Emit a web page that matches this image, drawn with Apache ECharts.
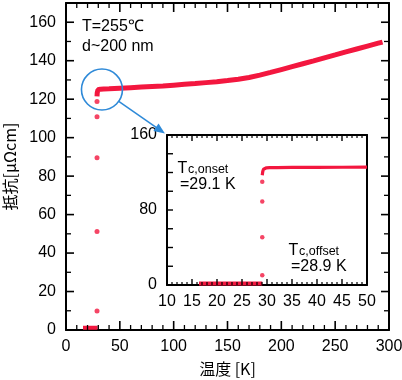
<!DOCTYPE html>
<html><head><meta charset="utf-8">
<script src="https://cdn.jsdelivr.net/npm/echarts@6/dist/echarts.min.js"></script>
<style>html,body{margin:0;padding:0;background:#fff}#c{width:402px;height:380px;background:#fff}</style>
</head><body><div id="c"></div>
<script>
// ---------- data (main panel) ----------
const mainZeroT = [15.8, 18, 20, 22, 24, 26, 28, 29.4];
const mainZeroR = [1.2, 1.2, 1.2, 1.2, 1.2, 1.2, 1.2, 1.2];
const mainTransT = [28.8, 28.8, 28.8, 28.8, 28.8];
const mainTransR = [9.9, 51.2, 89.5, 110.8, 118.8];
const mainNormT = [28.8, 29.0, 29.3, 29.7, 30.5, 32, 35, 40, 50, 60, 70, 80, 90, 100, 110, 120, 130, 140, 150, 160, 170, 180, 190, 200, 210, 220, 230, 240, 250, 260, 270, 280, 290, 294];
const mainNormR = [121.5, 123.3, 124.3, 124.9, 125.1, 125.2, 125.3, 125.4, 125.7, 126.0, 126.3, 126.6, 126.9, 127.3, 127.7, 128.1, 128.6, 129.1, 129.7, 130.4, 131.3, 132.5, 133.9, 135.4, 136.9, 138.4, 139.9, 141.5, 143.0, 144.6, 146.1, 147.6, 149.1, 149.7];
// ---------- data (inset) ----------
const insetZeroT = [16.4, 20, 25, 29.05];
const insetZeroR = [1.6, 1.6, 1.6, 1.6];
const insetTransT = [29.05, 29.05, 29.05, 29.05];
const insetTransR = [10.4, 50.9, 89.2, 110.1];
const insetNormT = [29.05, 29.15, 29.3, 29.5, 29.9, 30.5, 32, 35, 40, 45, 50];
const insetNormR = [117.0, 121.0, 123.5, 124.6, 125.0, 125.2, 125.3, 125.4, 125.5, 125.6, 125.7];
// ---------- axis ranges, ticks, labels ----------
const mainXRange = [0, 300], mainXStep = 50;
const mainYRange = [0, 170], mainYLabelStep = 20, mainYLabelMax = 160;
const insetXRange = [10, 50], insetXStep = 5;
const insetYRange = [0, 160], insetYLabelStep = 80;
const mainXMajor = [0, 50, 100, 150, 200, 250, 300];
const mainXMinor = [10, 20, 30, 40, 60, 70, 80, 90, 110, 120, 130, 140, 160, 170, 180, 190, 210, 220, 230, 240, 260, 270, 280, 290];
const mainYMajor = [20, 40, 60, 80, 100, 120, 140, 160];
const mainYMinor = [10, 30, 50, 70, 90, 110, 130, 150];
const insetXMajor = [15, 20, 25, 30, 35, 40, 45];
const insetXMinor = [11, 12, 13, 14, 16, 17, 18, 19, 21, 22, 23, 24, 26, 27, 28, 29, 31, 32, 33, 34, 36, 37, 38, 39, 41, 42, 43, 44, 46, 47, 48, 49];
const insetYTicks = [20, 40, 60, 80, 100, 120, 140];
const xName = '温度 [K]';
const yName = '抵抗[μΩcm]';
const noteLines = ['T=255℃', 'd~200 nm'];
const onsetText = ['T', 'c,onset', '=29.1 K'];
const offsetText = ['T', 'c,offset', '=28.9 K'];
const circleAt = [33.4, 125];   // data point the blue circle surrounds

const RED = '#f3173f';
const BLUE = '#2f8ad8';
const FONT = '"Liberation Sans", Arial, sans-serif';
const CJK = '"Noto Sans CJK JP", "Liberation Sans", sans-serif';
const zip = (a, b) => a.map((v, i) => [v, b[i]]);

const lbl = { color: '#000', fontSize: 16, fontFamily: FONT };

function ax(grid, pos, range, step, labelOpt) {
  return {
    type: 'value', gridIndex: grid, position: pos, min: range[0], max: range[1], interval: step,
    axisLine: { show: true, onZero: false, lineStyle: { color: '#000', width: 2 } },
    axisTick: { show: false }, minorTick: { show: false },
    axisLabel: labelOpt ? Object.assign({ show: true, showMaxLabel: true, showMinLabel: true }, lbl, labelOpt) : { show: false },
    splitLine: { show: false }, minorSplitLine: { show: false }
  };
}
const mainYFmt = v => (v % mainYLabelStep === 0 && v <= mainYLabelMax) ? String(v) : '';
const insetYFmt = v => (v % insetYLabelStep === 0) ? String(v) : '';

function txt(x, y, s, size) {
  return { type: 'text', x: x, y: y, z: 20, style: { text: s, fill: '#000', font: size + 'px ' + FONT, align: 'left', verticalAlign: 'bottom' } };
}

const chart = echarts.init(document.getElementById('c'), null, { renderer: 'canvas' });
const option = {
  animation: false,
  grid: [
    { left: 66, top: 3, width: 323, height: 327, outerBoundsMode: 'none', containLabel: false },
    { left: 167, top: 135, width: 200, height: 150, outerBoundsMode: 'none', containLabel: false }
  ],
  xAxis: [
    Object.assign(ax(0, 'bottom', mainXRange, mainXStep, { margin: 9 }), {
      name: xName, nameLocation: 'middle', nameGap: 31,
      nameTextStyle: { color: '#000', fontSize: 16, fontFamily: CJK }
    }),
    ax(0, 'top', mainXRange, mainXStep, null),
    ax(1, 'bottom', insetXRange, insetXStep, { margin: 9 }),
    ax(1, 'top', insetXRange, insetXStep, null)
  ],
  yAxis: [
    Object.assign(ax(0, 'left', mainYRange, 10, { margin: 10, formatter: mainYFmt }), {
      name: yName, nameLocation: 'middle', nameGap: 47,
      nameTextStyle: { color: '#000', fontSize: 16, fontFamily: CJK }
    }),
    ax(0, 'right', mainYRange, 10, null),
    ax(1, 'left', insetYRange, 20, { margin: 10, formatter: insetYFmt }),
    ax(1, 'right', insetYRange, 20, null)
  ],
  series: [
    { type: 'line', xAxisIndex: 0, yAxisIndex: 0, data: zip(mainZeroT, mainZeroR), showSymbol: false, lineStyle: { color: RED, width: 4 }, z: 3 },
    { type: 'line', xAxisIndex: 0, yAxisIndex: 0, data: zip(mainNormT, mainNormR), showSymbol: false, smooth: false, lineStyle: { color: RED, width: 5 }, z: 3 },
    { type: 'scatter', xAxisIndex: 0, yAxisIndex: 0, data: zip(mainTransT, mainTransR), symbolSize: 5, itemStyle: { color: RED }, z: 3 },
    { type: 'line', xAxisIndex: 2, yAxisIndex: 2, data: zip(insetZeroT, insetZeroR), showSymbol: false, lineStyle: { color: RED, width: 4 }, z: 7 },
    { type: 'line', xAxisIndex: 2, yAxisIndex: 2, data: zip(insetNormT, insetNormR), showSymbol: false, lineStyle: { color: RED, width: 3.2 }, z: 7 },
    { type: 'scatter', xAxisIndex: 2, yAxisIndex: 2, data: zip(insetTransT, insetTransR), symbolSize: 4.5, itemStyle: { color: RED }, z: 7 }
  ]
};
chart.setOption(option);

const gfx = [];
// inward ticks as thin filled rectangles, positioned through the chart's scales
function ticks(xi, yi, values, dir, len, w) {
  const xr = xi === 0 ? mainXRange : insetXRange;
  const yr = yi === 0 ? mainYRange : insetYRange;
  const f = { xAxisIndex: xi, yAxisIndex: yi };
  values.forEach(v => {
    let p, s;
    if (dir === 'bottom') { p = chart.convertToPixel(f, [v, yr[0]]); s = { x: p[0] - w / 2, y: p[1] - len, width: w, height: len }; }
    else if (dir === 'top') { p = chart.convertToPixel(f, [v, yr[1]]); s = { x: p[0] - w / 2, y: p[1], width: w, height: len }; }
    else if (dir === 'left') { p = chart.convertToPixel(f, [xr[0], v]); s = { x: p[0], y: p[1] - w / 2, width: len, height: w }; }
    else { p = chart.convertToPixel(f, [xr[1], v]); s = { x: p[0] - len, y: p[1] - w / 2, width: len, height: w }; }
    gfx.push({ type: 'rect', shape: s, style: { fill: '#000' }, z: 40, silent: true });
  });
}
ticks(0, 0, mainXMajor, 'bottom', 9, 1.6);
ticks(0, 0, mainXMinor, 'bottom', 5, 1.3);
ticks(0, 0, mainXMajor, 'top', 9, 1.6);
ticks(0, 0, mainXMinor, 'top', 5, 1.3);
ticks(0, 0, mainYMajor, 'left', 8, 1.6);
ticks(0, 0, mainYMinor, 'left', 5, 1.3);
ticks(0, 0, mainYMajor, 'right', 8, 1.6);
ticks(0, 0, mainYMinor, 'right', 5, 1.3);
ticks(2, 2, insetXMajor, 'bottom', 6, 1.4);
ticks(2, 2, insetXMinor, 'bottom', 3, 1.2);
ticks(2, 2, insetXMajor, 'top', 6, 1.4);
ticks(2, 2, insetXMinor, 'top', 3, 1.2);
ticks(2, 2, insetYTicks, 'left', 6, 1.4);

// annotations (circle + arrow) positioned through the chart's own scales
const cPix = chart.convertToPixel({ xAxisIndex: 0, yAxisIndex: 0 }, circleAt);
const corner = chart.convertToPixel({ xAxisIndex: 2, yAxisIndex: 2 }, [insetXRange[0], insetYRange[1]]);
const R = 20.5;
let dx = corner[0] - cPix[0], dy = corner[1] - cPix[1];
const L = Math.hypot(dx, dy); dx /= L; dy /= L;
const start = [cPix[0] + R * dx, cPix[1] + R * dy];
const tip = [corner[0] - 2.5 * dx, corner[1] - 2.5 * dy];
const base = [tip[0] - 11 * dx, tip[1] - 11 * dy];
const px = -dy, py = dx;
gfx.push(
  { type: 'circle', shape: { cx: cPix[0], cy: cPix[1], r: R }, style: { fill: 'none', stroke: BLUE, lineWidth: 1.6 }, z: 50 },
  { type: 'line', shape: { x1: start[0], y1: start[1], x2: base[0] + 2 * dx, y2: base[1] + 2 * dy }, style: { stroke: BLUE, lineWidth: 1.6 }, z: 50 },
  { type: 'polygon', shape: { points: [tip, [base[0] + 4.5 * px, base[1] + 4.5 * py], [base[0] - 4.5 * px, base[1] - 4.5 * py]] }, style: { fill: BLUE }, z: 50 },
  txt(82, 35, noteLines[0], 16),
  txt(82, 54.5, noteLines[1], 16),
  txt(177.5, 176.5, onsetText[0], 16),
  txt(188, 176.2, onsetText[1], 12.5),
  txt(180, 192.5, onsetText[2], 16),
  txt(288.5, 258.5, offsetText[0], 16),
  txt(299, 258.2, offsetText[1], 12.5),
  txt(291, 275, offsetText[2], 16)
);
chart.setOption({ graphic: gfx });
</script></body></html>
